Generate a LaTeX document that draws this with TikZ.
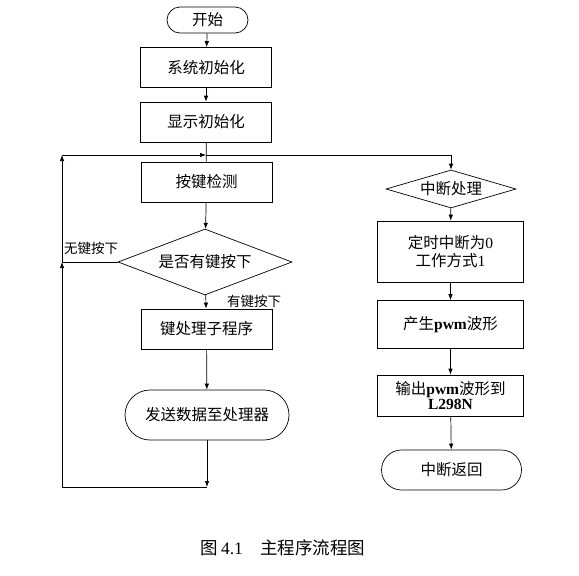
\documentclass[tikz,border=0pt]{standalone}
\usepackage{fontspec}
\setmainfont{Noto Sans CJK SC}
\newfontfamily\lat{Liberation Serif}
\usetikzlibrary{shapes.geometric,arrows.meta}
\begin{document}
\begin{tikzpicture}[x=1pt,y=-1pt,
  font=\fontsize{15.5}{18}\selectfont,
  line width=0.7pt,
  >={Latex[length=6pt,width=4.5pt]},
  proc/.style={draw, rectangle, minimum width=131pt, minimum height=40pt, inner sep=2pt, align=center},
  term/.style={draw, rectangle, inner sep=2pt},
  dia/.style={draw, diamond, inner sep=0pt},
  lbl/.style={font=\fontsize{13.5}{15}\selectfont}]
\useasboundingbox[fill=white] (0,0) rectangle (579,576);

% left column
\node[term, minimum width=81pt, minimum height=26pt, rounded corners=13pt] (start) at (207.5,20) {开始};
\node[proc] (sys) at (206,67.5) {系统初始化};
\node[proc] (disp) at (206,122) {显示初始化};
\node[proc] (key) at (206.5,182) {按键检测};
\node[dia, minimum width=174pt, minimum height=66pt, aspect=2.64] (dec) at (205,262) {是否有键按下};
\node[proc] (sub) at (206.5,329) {键处理子程序};
\node[term, minimum width=164pt, minimum height=50pt, rounded corners=25pt] (send) at (207,415) {发送数据至处理器};

% right column
\node[dia, minimum width=130pt, minimum height=38pt, aspect=3.4] (int) at (451,189) {中断处理};
\node[proc, minimum width=146pt, minimum height=61pt, text width=140pt] (timer) at (450.5,251.5) {定时中断为{\lat 0}\\工作方式{\lat 1}};
\node[proc, minimum width=146pt, minimum height=48pt] (pwm) at (450.5,324.5) {产生{\lat\bfseries pwm}波形};
\node[proc, minimum width=146pt, minimum height=41pt, text width=140pt] (out) at (450.5,395.5) {输出{\lat\bfseries pwm}波形到\\[-3pt]{\lat\bfseries L298N}};
\node[term, minimum width=140pt, minimum height=40pt, rounded corners=20pt] (ret) at (451.5,470) {中断返回};

% junction points
\coordinate (j1) at (206,155);
\coordinate (jl) at (62,155);
\coordinate (jr) at (451,155);
\coordinate (jm) at (62,262);
\coordinate (jb) at (207,487);
\coordinate (jbl) at (62,487);

% connectors
\draw[->] (start) -- (sys);
\draw[->] (sys) -- (disp);
\draw (disp) -- (key);
\draw[->] (jl) -- (j1);
\draw[->] (j1) -- (jr) -- (int.north);
\draw[->] (key) -- (dec);
\draw[->] (dec) -- (sub);
\draw[->] (sub) -- (send);
\draw[->] (send) -- (jb);
\draw (jb) -- (jbl);
\draw[->] (jbl) -- (jm);
\draw (dec.west) -- (jm);
\draw[->] (jm) -- (jl);

\draw[->] (int) -- (timer);
\draw[->] (timer) -- (pwm);
\draw[->] (pwm) -- (out);
\draw[->] (out) -- (ret);

% labels
\node[lbl] (nokey) at (91,248) {无键按下};
\node[lbl] (haskey) at (254,301) {有键按下};

% caption
\node[font=\fontsize{17.5}{20}\selectfont] (cap) at (283,548) {图\,{\lat 4.1}\quad 主程序流程图};
\end{tikzpicture}
\end{document}
